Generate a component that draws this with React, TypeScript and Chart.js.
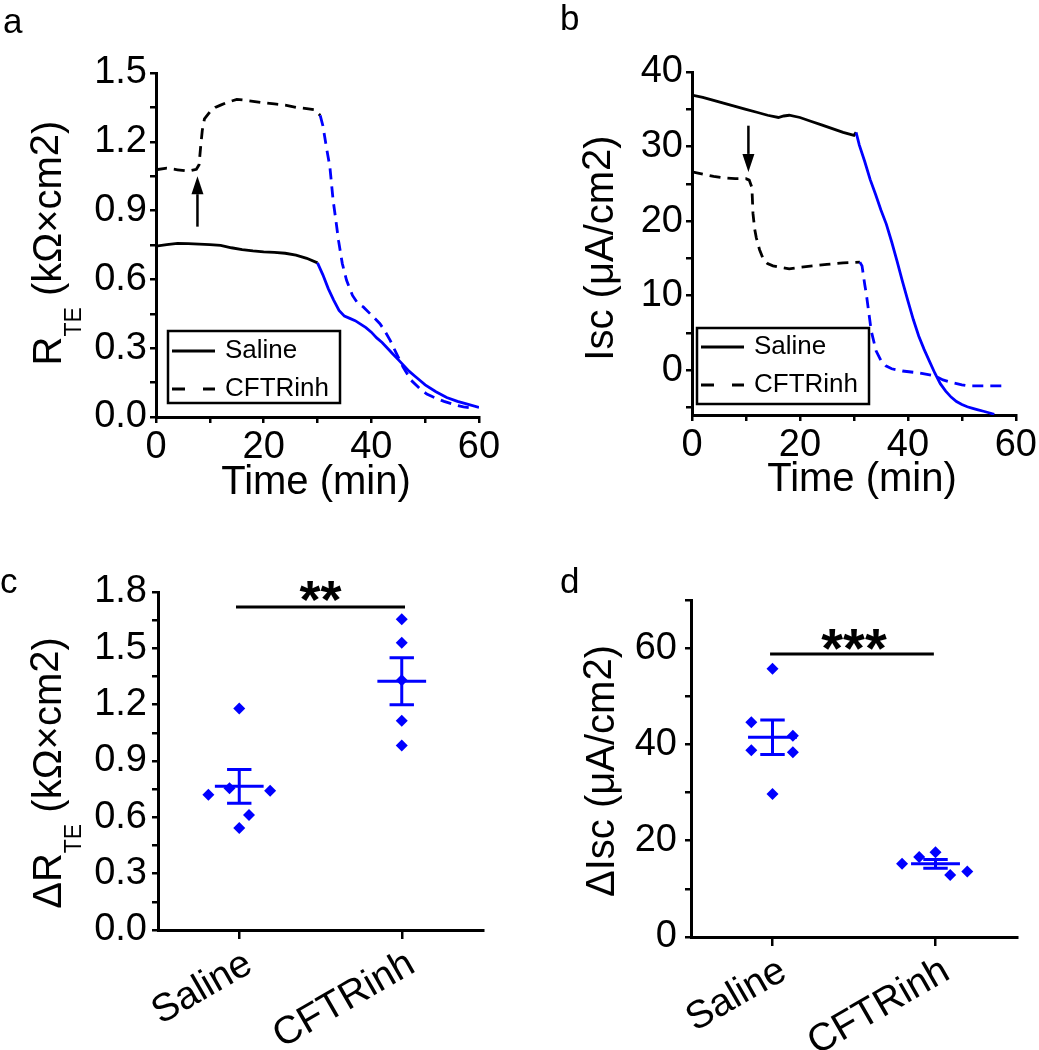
import React, { useEffect, useRef } from 'react';
import { Chart, registerables } from 'chart.js';

Chart.register(...registerables);

const FONT = '"Liberation Sans", Arial, Helvetica, sans-serif';
const BLACK = '#000000';
const BLUE = '#0000ff';
const TICK_SIZE = 38;
const TITLE_SIZE = 40;

// ---------------- shared ----------------
const seriesNames = ['Saline', 'CFTRinh'];
const groups = ['Saline', 'CFTRinh'];

// ---------------- panel a : R_TE traces ----------------
const aSalineTime = [0, 2, 4, 6, 8, 10, 12, 14, 16, 18, 20, 22, 24, 26, 28, 30, 31, 32, 33, 34, 35, 36, 37, 38, 39, 40, 41, 42, 43, 44, 45, 46, 47, 48, 49, 50, 52, 54, 56, 58, 60];
const aSalineR = [0.745, 0.752, 0.757, 0.756, 0.754, 0.752, 0.748, 0.738, 0.73, 0.724, 0.72, 0.718, 0.714, 0.706, 0.692, 0.672, 0.62, 0.56, 0.51, 0.465, 0.44, 0.43, 0.42, 0.405, 0.39, 0.37, 0.345, 0.325, 0.3, 0.275, 0.25, 0.225, 0.2, 0.18, 0.16, 0.14, 0.11, 0.085, 0.068, 0.055, 0.042];
const aCftrTime = [0, 2, 4, 6, 7.5, 8, 8.3, 8.6, 9, 10, 11, 12, 13, 15, 17, 20, 22, 24, 26, 28, 29.5, 30.5, 31, 31.7, 32.3, 32.9, 33.4, 33.9, 34.6, 35.4, 36.5, 37.5, 38.5, 40, 41.6, 42.5, 43.5, 44.7, 45.9, 47.4, 49, 50.3, 51.5, 53.5, 55.5, 57.1, 58.5];
const aCftrR = [1.078, 1.085, 1.078, 1.072, 1.08, 1.1, 1.18, 1.25, 1.3, 1.33, 1.35, 1.36, 1.37, 1.385, 1.38, 1.37, 1.365, 1.36, 1.35, 1.345, 1.34, 1.315, 1.27, 1.17, 1.09, 0.945, 0.86, 0.77, 0.67, 0.596, 0.53, 0.495, 0.48, 0.445, 0.407, 0.375, 0.334, 0.275, 0.218, 0.16, 0.124, 0.1, 0.087, 0.068, 0.053, 0.044, 0.04];
const aBlueFrom = [30, 30.5]; // time from which each trace is drawn blue
const aArrow = [7.7, 0.83, 1.05]; // time, tail value, head value
const aTimeTicks = [0, 10, 20, 30, 40, 50, 60];
const aTimeMajor = [0, 20, 40, 60];
const aRTicks = [0, 0.15, 0.3, 0.45, 0.6, 0.75, 0.9, 1.05, 1.2, 1.35, 1.5];
const aRMajor = [0, 0.3, 0.6, 0.9, 1.2, 1.5];

// ---------------- panel b : Isc traces ----------------
const bSalineTime = [0, 2, 4, 6, 8, 10, 12, 14, 16, 17, 18, 20, 22, 24, 26, 28, 30, 30.4, 31, 32, 33, 34, 35, 36, 37, 38, 39, 40, 41, 42, 43, 44, 45, 46, 47, 48, 49, 50, 51, 52, 53, 54, 55, 56];
const bSalineI = [36.9, 36.6, 36.2, 35.8, 35.4, 35.0, 34.6, 34.2, 33.9, 34.1, 34.2, 33.9, 33.4, 32.9, 32.4, 31.9, 31.5, 31.9, 30.2, 28.0, 25.6, 23.6, 21.5, 19.6, 17.2, 14.6, 11.9, 9.3, 6.8, 4.6, 2.8, 1.2, -0.4, -1.8, -2.8, -3.6, -4.2, -4.6, -4.9, -5.1, -5.3, -5.5, -5.7, -5.9];
const bCftrTime = [0, 2, 4, 6, 8, 10, 10.6, 11.1, 11.3, 11.6, 11.9, 12.5, 13.1, 14, 15, 16.3, 18, 20, 22.5, 25, 28, 31.1, 31.5, 32, 32.3, 32.8, 33.2, 34.1, 35, 35.9, 37, 39, 42, 45, 46.5, 48.2, 50, 51.3, 54, 58];
const bCftrI = [26.6, 26.3, 26.0, 25.8, 25.7, 25.7, 25.5, 24.5, 21.0, 19.0, 17.8, 16.2, 15.1, 14.3, 14.0, 13.8, 13.6, 13.8, 14.0, 14.2, 14.4, 14.5, 14.0, 11.5, 10.2, 7.5, 5.3, 2.6, 1.3, 0.6, 0.2, -0.1, -0.35, -0.77, -1.3, -1.66, -1.95, -2.1, -2.1, -2.1];
const bBlueFrom = [30.4, 31.1];
const bArrow = [10.45, 32.8, 26.6];
const bIscTicks = [-5, 0, 5, 10, 15, 20, 25, 30, 35, 40];
const bIscMajor = [0, 10, 20, 30, 40];

// ---------------- panel c : delta R_TE ----------------
const cSalineVals = [1.18, 0.72, 0.755, 0.742, 0.613, 0.543];
const cSalineJitter = [0, -0.19, -0.06, 0.19, 0.06, 0];
const cCftrVals = [1.655, 1.53, 1.33, 1.115, 0.983];
const cCftrJitter = [0, 0, 0, 0, 0];
const cMeans = [0.765, 1.325];
const cSems = [0.09, 0.125];
const cSigSpan = [-0.02, 1.02];
const cSigLevel = 1.72;
const cStars = ['**', 0.5, 1.83];
const cTicks = [0, 0.15, 0.3, 0.45, 0.6, 0.75, 0.9, 1.05, 1.2, 1.35, 1.5, 1.65, 1.8];
const cMajor = [0, 0.3, 0.6, 0.9, 1.2, 1.5, 1.8];

// ---------------- panel d : delta Isc ----------------
const dSalineVals = [55.7, 44.6, 41.8, 38.8, 38.4, 29.7];
const dSalineJitter = [0, -0.13, 0.125, -0.13, 0.125, 0];
const dCftrVals = [15.2, 16.6, 17.6, 12.9, 13.6];
const dCftrJitter = [-0.205, -0.1, 0, 0.09, 0.195];
const dMeans = [41.5, 15.2];
const dSems = [3.6, 0.9];
const dSigSpan = [-0.015, 0.99];
const dSigLevel = 58.8;
const dStars = ['***', 0.5, 62.9];
const dTicks = [0, 10, 20, 30, 40, 50, 60, 70];
const dMajor = [0, 20, 40, 60];

// ---------------- helpers ----------------
const zip = (xs: number[], ys: number[]) => xs.map((x, i) => ({ x, y: ys[i] }));
const jittered = (vals: number[], jit: number[], g: number) => vals.map((v, i) => ({ x: g + jit[i], y: v }));

function errorBarPoints(means: number[], sems: number[], halfMean: number, halfCap: number) {
  const pts: any[] = [];
  means.forEach((m, g) => {
    const s = sems[g];
    pts.push({ x: g - halfMean, y: m }, { x: g + halfMean, y: m }, { x: g, y: null });
    pts.push({ x: g, y: m - s }, { x: g, y: m + s }, { x: g, y: null });
    pts.push({ x: g - halfCap, y: m + s }, { x: g + halfCap, y: m + s }, { x: g, y: null });
    pts.push({ x: g - halfCap, y: m - s }, { x: g + halfCap, y: m - s }, { x: g, y: null });
  });
  return pts;
}

function makeScale(o: {
  isX: boolean; min: number; max: number; ticks: number[]; label: (v: number) => string;
  size: number; tickLength: number; padding: number; rotation?: number; fontSize?: number; labelOffset?: number;
}) {
  return {
    type: 'linear',
    position: o.isX ? 'bottom' : 'left',
    min: o.min,
    max: o.max,
    afterBuildTicks: (s: any) => { s.ticks = o.ticks.map((v) => ({ value: v })); },
    afterFit: (s: any) => { if (o.isX) s.height = o.size; else s.width = o.size; },
    border: { display: true, color: BLACK, width: 3 },
    grid: {
      display: true, drawOnChartArea: false, drawTicks: true, tickLength: o.tickLength,
      color: BLACK, tickColor: BLACK, lineWidth: 2.5, tickWidth: 2.5,
    },
    ticks: {
      autoSkip: false, color: BLACK, padding: o.padding,
      labelOffset: o.labelOffset ?? 0,
      font: { family: FONT, size: o.fontSize ?? TICK_SIZE },
      maxRotation: o.rotation ?? 0, minRotation: o.rotation ?? 0,
      callback: (v: any) => o.label(Number(v)),
    },
    title: { display: false },
  };
}

type Part = { t: string; size: number; dy?: number };
interface Extras {
  letter: [string, number, number];
  xTitle?: [string, number, number];
  yTitle: { parts: Part[]; x: number; y: number };
  legend?: { x: number; y: number; w: number; h: number; rowY: number[]; dashes: number[][] };
  arrow?: number[];
  stars?: (string | number)[];
  starSize?: number;
}

function extrasPlugin(ex: Extras) {
  return {
    id: 'extras',
    afterDraw(chart: any) {
      const ctx = chart.ctx as CanvasRenderingContext2D;
      const xs = chart.scales.x;
      const ys = chart.scales.y;
      ctx.save();
      ctx.fillStyle = BLACK;
      ctx.strokeStyle = BLACK;
      ctx.setLineDash([]);

      // panel letter
      ctx.font = `35px ${FONT}`;
      ctx.textAlign = 'left';
      ctx.textBaseline = 'alphabetic';
      ctx.fillText(ex.letter[0], ex.letter[1], ex.letter[2]);

      // x title
      if (ex.xTitle) {
        ctx.font = `${TITLE_SIZE}px ${FONT}`;
        ctx.textAlign = 'center';
        ctx.textBaseline = 'middle';
        ctx.fillText(ex.xTitle[0], ex.xTitle[1], ex.xTitle[2]);
      }

      // y title (rotated rich text)
      {
        const { parts, x, y } = ex.yTitle;
        let total = 0;
        const widths = parts.map((p) => {
          ctx.font = `${p.size}px ${FONT}`;
          const w = ctx.measureText(p.t).width;
          total += w;
          return w;
        });
        ctx.save();
        ctx.translate(x, y);
        ctx.rotate(-Math.PI / 2);
        ctx.textAlign = 'left';
        ctx.textBaseline = 'alphabetic';
        let cx = -total / 2;
        parts.forEach((p, i) => {
          ctx.font = `${p.size}px ${FONT}`;
          ctx.fillText(p.t, cx, p.dy ?? 0);
          cx += widths[i];
        });
        ctx.restore();
      }

      // legend box
      if (ex.legend) {
        const L = ex.legend;
        ctx.lineWidth = 2.5;
        ctx.strokeRect(L.x, L.y, L.w, L.h);
        ctx.font = `26px ${FONT}`;
        ctx.textAlign = 'left';
        ctx.textBaseline = 'middle';
        seriesNames.forEach((name, i) => {
          const yy = L.y + L.rowY[i];
          ctx.setLineDash(L.dashes[i]);
          ctx.lineWidth = 3;
          ctx.beginPath();
          ctx.moveTo(L.x + 4, yy);
          ctx.lineTo(L.x + 47, yy);
          ctx.stroke();
          ctx.setLineDash([]);
          ctx.fillText(name, L.x + 57, yy);
        });
      }

      // arrow
      if (ex.arrow) {
        const px = xs.getPixelForValue(ex.arrow[0]);
        const y0 = ys.getPixelForValue(ex.arrow[1]);
        const y1 = ys.getPixelForValue(ex.arrow[2]);
        const dir = y1 > y0 ? 1 : -1;
        const hl = 18;
        const hw = 6;
        ctx.lineWidth = 2.5;
        ctx.beginPath();
        ctx.moveTo(px, y0);
        ctx.lineTo(px, y1 - dir * hl);
        ctx.stroke();
        ctx.beginPath();
        ctx.moveTo(px, y1);
        ctx.lineTo(px - hw, y1 - dir * hl);
        ctx.lineTo(px + hw, y1 - dir * hl);
        ctx.closePath();
        ctx.fill();
      }

      // significance stars
      if (ex.stars) {
        const size = ex.starSize ?? 54;
        const px = xs.getPixelForValue(ex.stars[1] as number);
        const py = ys.getPixelForValue(ex.stars[2] as number);
        ctx.font = `bold ${size}px ${FONT}`;
        ctx.textAlign = 'center';
        ctx.textBaseline = 'alphabetic';
        ctx.fillText(ex.stars[0] as string, px, py + 0.58 * size);
      }
      ctx.restore();
    },
  };
}

const baseOptions = (padding: any, scales: any) => ({
  responsive: false,
  animation: false,
  devicePixelRatio: 1,
  events: [],
  layout: { padding },
  plugins: { legend: { display: false }, tooltip: { enabled: false }, title: { display: false } },
  scales,
});

function traceDataset(label: string, data: any[], blueFrom: number, dash: number[]) {
  return {
    label,
    data,
    borderColor: BLACK,
    borderWidth: 2.8,
    borderDash: dash,
    pointRadius: 0,
    fill: false,
    segment: { borderColor: (c: any) => (c.p0.parsed.x >= blueFrom ? BLUE : BLACK) },
  };
}

function configA() {
  return {
    type: 'line',
    data: {
      datasets: [
        traceDataset(seriesNames[0], zip(aSalineTime, aSalineR), aBlueFrom[0], []),
        traceDataset(seriesNames[1], zip(aCftrTime, aCftrR), aBlueFrom[1], [11, 7]),
      ],
    },
    options: baseOptions({ left: 0, top: 73, right: 41, bottom: 0 }, {
      x: makeScale({ isX: true, min: 0, max: 60, ticks: aTimeTicks, label: (v) => (aTimeMajor.includes(v) ? String(v) : ''), size: 103, tickLength: 6, padding: 2 }),
      y: makeScale({ isX: false, min: 0, max: 1.5, ticks: aRTicks, label: (v) => (aRMajor.includes(v) ? v.toFixed(1) : ''), size: 156, tickLength: 6, padding: 3 }),
    }),
    plugins: [extrasPlugin({
      letter: ['a', 3, 33],
      xTitle: ['Time (min)', 316, 483],
      yTitle: { x: 61, y: 243, parts: [
        { t: 'R', size: TITLE_SIZE }, { t: 'TE', size: 23, dy: 20 }, { t: ' (kΩ×cm', size: TITLE_SIZE }, { t: '2', size: TITLE_SIZE, dy: -3 }, { t: ')', size: TITLE_SIZE },
      ] },
      legend: { x: 168, y: 331, w: 172, h: 72, rowY: [20, 58], dashes: [[], [13, 18]] },
      arrow: aArrow,
    })],
  };
}

function configB() {
  return {
    type: 'line',
    data: {
      datasets: [
        traceDataset(seriesNames[0], zip(bSalineTime, bSalineI), bBlueFrom[0], []),
        traceDataset(seriesNames[1], zip(bCftrTime, bCftrI), bBlueFrom[1], [11, 7]),
      ],
    },
    options: baseOptions({ left: 0, top: 72, right: 22, bottom: 0 }, {
      x: makeScale({ isX: true, min: 0, max: 60, ticks: aTimeTicks, label: (v) => (aTimeMajor.includes(v) ? String(v) : ''), size: 105, tickLength: 6, padding: 2 }),
      y: makeScale({ isX: false, min: -6, max: 40, ticks: bIscTicks, label: (v) => (bIscMajor.includes(v) ? String(v) : ''), size: 172, tickLength: 6, padding: 3 }),
    }),
    plugins: [extrasPlugin({
      letter: ['b', 40, 30],
      xTitle: ['Time (min)', 342, 480],
      yTitle: { x: 93, y: 248, parts: [
        { t: 'Isc (μA/cm', size: TITLE_SIZE }, { t: '2', size: TITLE_SIZE, dy: -3 }, { t: ')', size: TITLE_SIZE },
      ] },
      legend: { x: 177, y: 328, w: 172, h: 76, rowY: [19, 57], dashes: [[], [13, 18]] },
      arrow: bArrow,
    })],
  };
}

function dotDatasets(salVals: number[], salJit: number[], cftVals: number[], cftJit: number[], means: number[], sems: number[], sigSpan: number[], sigLevel: number) {
  return [
    {
      label: 'mean ± SEM',
      data: errorBarPoints(means, sems, 0.15, 0.075),
      borderColor: BLUE, borderWidth: 3, pointRadius: 0, spanGaps: false, fill: false,
    },
    {
      label: 'significance',
      data: [{ x: sigSpan[0], y: sigLevel }, { x: sigSpan[1], y: sigLevel }],
      borderColor: BLACK, borderWidth: 3, pointRadius: 0, fill: false,
    },
    {
      label: groups[0],
      data: jittered(salVals, salJit, 0),
      showLine: false, pointStyle: 'rectRot', pointRadius: 6, pointBorderWidth: 0,
      pointBackgroundColor: BLUE, backgroundColor: BLUE, borderColor: BLUE,
    },
    {
      label: groups[1],
      data: jittered(cftVals, cftJit, 1),
      showLine: false, pointStyle: 'rectRot', pointRadius: 6, pointBorderWidth: 0,
      pointBackgroundColor: BLUE, backgroundColor: BLUE, borderColor: BLUE,
    },
  ];
}

const groupLabel = (v: number) => (v === 0 || v === 1 ? groups[v] : '');

function configC() {
  return {
    type: 'line',
    data: { datasets: dotDatasets(cSalineVals, cSalineJitter, cCftrVals, cCftrJitter, cMeans, cSems, cSigSpan, cSigLevel) },
    options: baseOptions({ left: 0, top: 72, right: 37, bottom: 0 }, {
      x: makeScale({ isX: true, min: -0.5, max: 1.5, ticks: [0, 1], label: groupLabel, size: 120, tickLength: 9, padding: 2, rotation: 30, fontSize: 39, labelOffset: 10 }),
      y: makeScale({ isX: false, min: 0, max: 1.8, ticks: cTicks, label: (v) => (cMajor.includes(v) ? v.toFixed(1) : ''), size: 158, tickLength: 6, padding: 5 }),
    }),
    plugins: [extrasPlugin({
      letter: ['c', 0, 73],
      yTitle: { x: 61, y: 253, parts: [
        { t: 'ΔR', size: TITLE_SIZE }, { t: 'TE', size: 23, dy: 20 }, { t: ' (kΩ×cm', size: TITLE_SIZE }, { t: '2', size: TITLE_SIZE, dy: -3 }, { t: ')', size: TITLE_SIZE },
      ] },
      stars: cStars,
      starSize: 54,
    })],
  };
}

function configD() {
  return {
    type: 'line',
    data: { datasets: dotDatasets(dSalineVals, dSalineJitter, dCftrVals, dCftrJitter, dMeans, dSems, dSigSpan, dSigLevel) },
    options: baseOptions({ left: 0, top: 80, right: 22, bottom: 0 }, {
      x: makeScale({ isX: true, min: -0.5, max: 1.5, ticks: [0, 1], label: groupLabel, size: 113, tickLength: 9, padding: 2, rotation: 30, fontSize: 39, labelOffset: 11 }),
      y: makeScale({ isX: false, min: 0, max: 70, ticks: dTicks, label: (v) => (dMajor.includes(v) ? String(v) : ''), size: 171, tickLength: 6, padding: 8 }),
    }),
    plugins: [extrasPlugin({
      letter: ['d', 40, 73],
      yTitle: { x: 94, y: 251, parts: [
        { t: 'ΔIsc (μA/cm', size: TITLE_SIZE }, { t: '2', size: TITLE_SIZE, dy: -3 }, { t: ')', size: TITLE_SIZE },
      ] },
      stars: dStars,
      starSize: 56,
    })],
  };
}

function Panel(props: { left: number; top: number; width: number; height: number; make: () => any }) {
  const ref = useRef<HTMLCanvasElement | null>(null);
  useEffect(() => {
    if (!ref.current) return;
    const chart = new Chart(ref.current, props.make());
    return () => chart.destroy();
  }, []);
  return (
    <canvas
      ref={ref}
      width={props.width}
      height={props.height}
      style={{ position: 'absolute', left: props.left, top: props.top, width: props.width, height: props.height }}
    />
  );
}

export default function App() {
  return (
    <div style={{ position: 'absolute', left: 0, top: 0, width: 1039, height: 1050, background: '#ffffff', overflow: 'hidden' }}>
      <Panel left={0} top={0} width={520} height={520} make={configA} />
      <Panel left={520} top={0} width={519} height={520} make={configB} />
      <Panel left={0} top={520} width={520} height={530} make={configC} />
      <Panel left={520} top={520} width={519} height={530} make={configD} />
    </div>
  );
}
